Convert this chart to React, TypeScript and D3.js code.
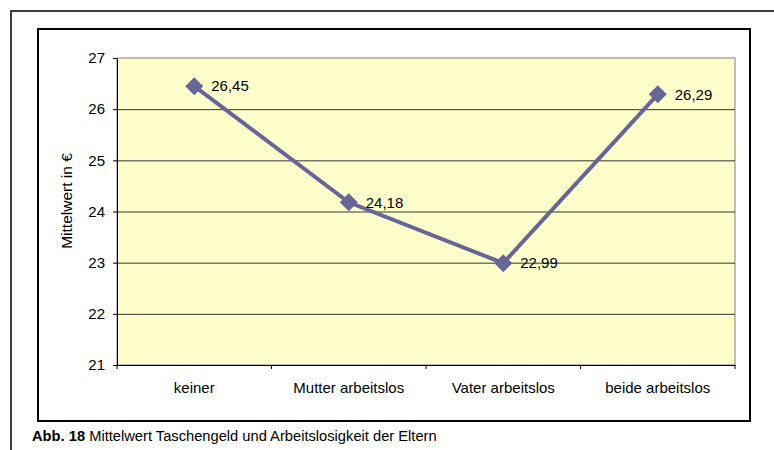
import { useEffect, useRef } from "react";
import * as d3 from "d3";

const categories = ["keiner", "Mutter arbeitslos", "Vater arbeitslos", "beide arbeitslos"];
const values = [26.45, 24.18, 22.99, 26.29];
const yTicks = [21, 22, 23, 24, 25, 26, 27];

export default function App() {
    const svgRef = useRef<SVGSVGElement | null>(null);

    useEffect(() => {
        const svgEl = svgRef.current;
        if (!svgEl) return;
        const svg = d3.select(svgEl);
        svg.selectAll("*").remove();

        const font = "'Liberation Sans', Arial, sans-serif";
        const fs = 15;
        const plot = { left: 117, top: 58, right: 735, bottom: 365 };

        // outer frame
        svg.append("rect")
            .attr("x", 11).attr("y", 11).attr("width", 800).attr("height", 500)
            .attr("fill", "#fff").attr("stroke", "#000").attr("stroke-width", 1.5);

        // chart box
        svg.append("rect")
            .attr("x", 38).attr("y", 29).attr("width", 712).attr("height", 392)
            .attr("fill", "#fff").attr("stroke", "#000").attr("stroke-width", 2);

        const x = d3.scaleBand<string>()
            .domain(categories)
            .range([plot.left, plot.right]);

        const y = d3.scaleLinear()
            .domain([21, 27])
            .range([plot.bottom, plot.top]);

        // plot area
        svg.append("rect")
            .attr("x", plot.left).attr("y", plot.top)
            .attr("width", plot.right - plot.left).attr("height", plot.bottom - plot.top)
            .attr("fill", "#ffffcc").attr("stroke", "#808080").attr("stroke-width", 1);

        // gridlines
        svg.append("g")
            .selectAll("line")
            .data(yTicks.slice(1, -1))
            .join("line")
            .attr("x1", plot.left).attr("x2", plot.right)
            .attr("y1", (d) => y(d) + 0.5).attr("y2", (d) => y(d) + 0.5)
            .attr("stroke", "#333").attr("stroke-width", 1);

        // Y axis
        const yAxis = svg.append("g")
            .attr("transform", `translate(${plot.left},0)`)
            .call(d3.axisLeft(y).tickValues(yTicks).tickFormat(d3.format("d")).tickSize(4).tickPadding(8).tickSizeOuter(0));
        yAxis.select(".domain").attr("stroke", "#000");
        yAxis.selectAll("line").attr("stroke", "#000");
        yAxis.selectAll("text")
            .attr("font-family", font).attr("font-size", fs).attr("fill", "#000");

        // X axis
        const xAxis = svg.append("g")
            .attr("transform", `translate(0,${plot.bottom})`)
            .call(d3.axisBottom(x).tickSize(0).tickPadding(17));
        xAxis.select(".domain").attr("stroke", "#000");
        xAxis.selectAll("text")
            .attr("font-family", font).attr("font-size", fs).attr("fill", "#000");
        xAxis.append("g")
            .selectAll("line")
            .data(categories)
            .join("line")
            .attr("x1", (d) => (x(d) ?? 0) + x.bandwidth())
            .attr("x2", (d) => (x(d) ?? 0) + x.bandwidth())
            .attr("y1", 0).attr("y2", 4)
            .attr("stroke", "#000");
        xAxis.append("line")
            .attr("x1", plot.left).attr("x2", plot.left)
            .attr("y1", 0).attr("y2", 4).attr("stroke", "#000");

        // axis title
        svg.append("text")
            .attr("transform", `translate(72,201) rotate(-90)`)
            .attr("text-anchor", "middle")
            .attr("font-family", font).attr("font-size", 15.5)
            .text("Mittelwert in €");

        const cx = (i: number) => (x(categories[i]) ?? 0) + x.bandwidth() / 2;

        const line = d3.line<number>()
            .x((d, i) => cx(i))
            .y((d) => y(d));

        svg.append("path")
            .datum(values)
            .attr("fill", "none")
            .attr("stroke", "#666699")
            .attr("stroke-width", 4)
            .attr("d", line);

        svg.append("g")
            .selectAll("path")
            .data(values)
            .join("path")
            .attr("transform", (d, i) => `translate(${cx(i)},${y(d)})`)
            .attr("d", "M0,-9L9,0L0,9L-9,0Z")
            .attr("fill", "#666699");

        svg.append("g")
            .selectAll("text")
            .data(values)
            .join("text")
            .attr("x", (d, i) => cx(i) + 17)
            .attr("y", (d) => y(d))
            .attr("dy", "0.35em")
            .attr("font-family", font).attr("font-size", fs)
            .text((d) => d.toFixed(2).replace(".", ","));

        // caption
        const cap = svg.append("text")
            .attr("x", 32).attr("y", 441)
            .attr("font-family", font).attr("font-size", 14.7);
        cap.append("tspan").attr("font-weight", "bold").text("Abb. 18");
        cap.append("tspan").text(" Mittelwert Taschengeld und Arbeitslosigkeit der Eltern");
    }, []);

    return (
        <svg
            ref={svgRef}
            width={774}
            height={450}
            style={{ position: "absolute", left: 0, top: 0, background: "#fff" }}
        />
    );
}
